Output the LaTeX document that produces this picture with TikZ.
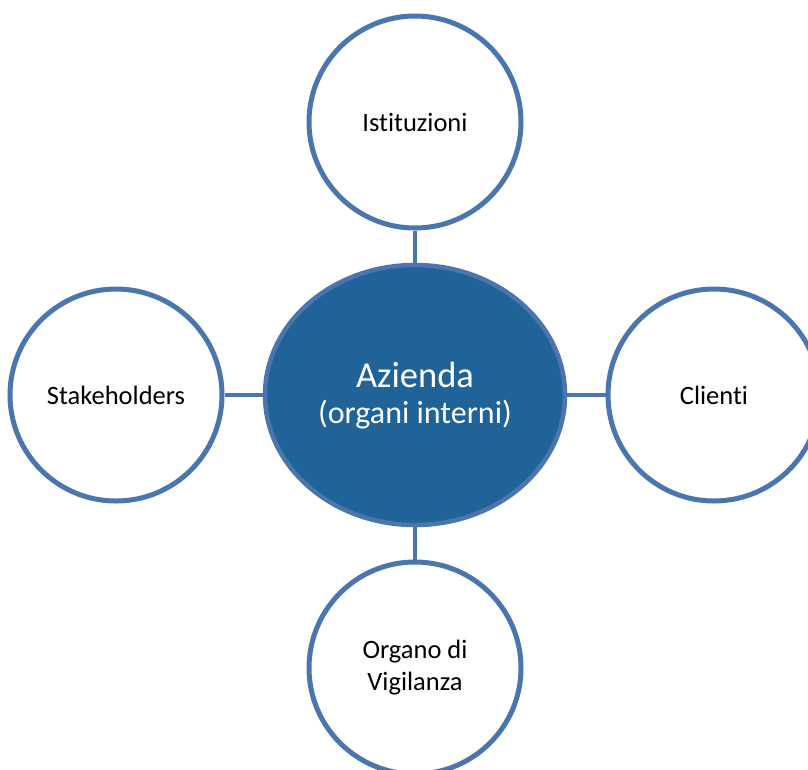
\documentclass[tikz,border=0pt]{standalone}
\usepackage{fontspec}
\setmainfont{Carlito}[Ligatures=NoCommon]
\usetikzlibrary{shapes.geometric}
\definecolor{ringblue}{RGB}{74,118,173}
\definecolor{coreblue}{RGB}{31,99,153}
\tikzset{
  outer/.style={circle, draw=ringblue, line width=5pt, fill=white, minimum size=212pt, inner sep=0pt, align=center, font=\fontsize{26.5}{32}\selectfont, text=black},
  core/.style={ellipse, draw=ringblue, line width=4.5pt, fill=coreblue, minimum width=300pt, minimum height=260pt, inner sep=0pt},
  coretext/.style={anchor=base, text=white, inner sep=0pt},
  link/.style={draw=ringblue, line width=4.5pt}
}
\begin{document}
\begin{tikzpicture}[x=1pt,y=-1pt]
\useasboundingbox (0,0) rectangle (808,769);
\clip (0,0) rectangle (808,769);
\fill[white] (0,0) rectangle (808,769);
\node[core] (az) at (415,395) {};
\node[coretext, font=\fontsize{36.5}{40}\selectfont] (azt1) at (415,387) {Azienda};
\node[coretext, font=\fontsize{32}{40}\selectfont] (azt2) at (415,423) {(organi interni)};
\node[outer] (ist) at (415,122) {Istituzioni};
\node[outer] (stk) at (116,395) {Stakeholders};
\node[outer] (cli) at (714,395) {Clienti};
\node[outer] (org) at (415,668) {Organo di\\Vigilanza};
\draw[link] (ist) -- (az);
\draw[link] (org) -- (az);
\draw[link] (stk) -- (az);
\draw[link] (cli) -- (az);
\end{tikzpicture}
\end{document}
